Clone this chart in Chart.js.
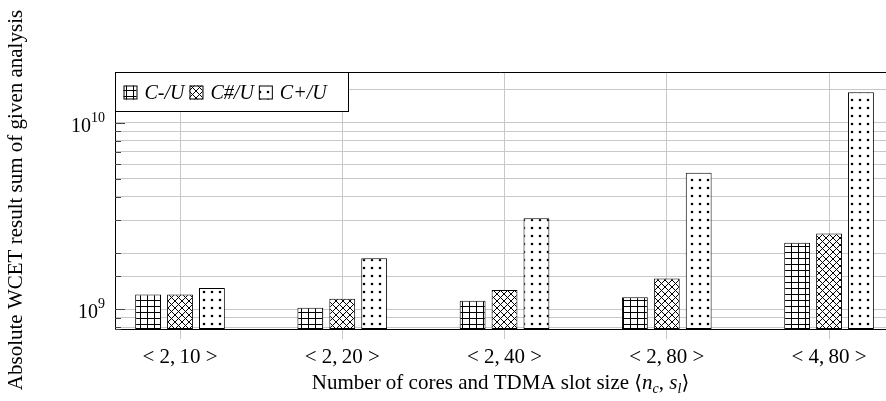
<!DOCTYPE html>
<html>
<head>
<meta charset="utf-8">
<script src="https://cdn.jsdelivr.net/npm/chart.js@4.4.1/dist/chart.umd.min.js"></script>
<style>
  body { margin: 0; background: #fff; }
  #wrap { width: 886px; height: 401px; position: relative; }
</style>
</head>
<body>
<div id="wrap"><canvas id="wcetChart"></canvas></div>
<script>
// Chart data
var categories = ['< 2,\u200910 >', '< 2,\u200920 >', '< 2,\u200940 >', '< 2,\u200980 >', '< 4,\u200980 >'];
var seriesNames = ['C-/U', 'C#/U', 'C+/U'];
var cMinusU = [1.20e9, 1.02e9, 1.11e9, 1.16e9, 2.27e9];
var cSharpU = [1.20e9, 1.14e9, 1.27e9, 1.46e9, 2.55e9];
var cPlusU = [1.30e9, 1.88e9, 3.08e9, 5.40e9, 1.455e10];
var yLabelValues = [1e9, 1e10];
var yLabelExponents = ['9', '10'];

var serif = '"Liberation Serif", "Times New Roman", serif';

// Build the hatch patterns used for the bars
function makePattern(kind) {
    var c = document.createElement('canvas');
    var g = c.getContext('2d');
    if (kind === 'grid') {
        c.width = 7; c.height = 6;
        g.fillStyle = '#fff'; g.fillRect(0, 0, 7, 6);
        g.fillStyle = '#000';
        g.fillRect(0, 0, 1, 6);
        g.fillRect(0, 0, 7, 1);
    } else if (kind === 'cross') {
        c.width = 7; c.height = 7;
        g.fillStyle = '#fff'; g.fillRect(0, 0, 7, 7);
        g.strokeStyle = '#000'; g.lineWidth = 1;
        g.beginPath();
        g.moveTo(0, 0); g.lineTo(7, 7);
        g.moveTo(7, 0); g.lineTo(0, 7);
        g.stroke();
    } else {
        c.width = 8; c.height = 8;
        g.fillStyle = '#fff'; g.fillRect(0, 0, 8, 8);
        g.fillStyle = '#000';
        g.beginPath();
        g.arc(4, 4, 1.3, 0, Math.PI * 2);
        g.fill();
    }
    return document.getElementById('wcetChart').getContext('2d').createPattern(c, 'repeat');
}

var patterns = [makePattern('grid'), makePattern('cross'), makePattern('dots')];
var seriesValues = [cMinusU, cSharpU, cPlusU];

var datasets = seriesNames.map(function (name, k) {
    return {
        label: name,
        data: seriesValues[k].map(function (v, i) { return { x: i, y: v }; }),
        backgroundColor: patterns[k],
        borderColor: '#000',
        borderWidth: 1,
        borderSkipped: false,
        categoryPercentage: 0.59,
        barPercentage: 0.81
    };
});

// Draws the legend box, the frame, y labels and axis titles
var decorPlugin = {
    id: 'decor',
    afterDraw: function (chart) {
        var ctx = chart.ctx;
        var area = chart.chartArea;
        var y = chart.scales.y;
        ctx.save();

        // top frame line
        ctx.strokeStyle = '#000';
        ctx.lineWidth = 1;
        ctx.beginPath();
        ctx.moveTo(area.left, Math.round(area.top) + 0.5);
        ctx.lineTo(area.right, Math.round(area.top) + 0.5);
        ctx.stroke();

        // small inner tick marks on the y axis
        ctx.strokeStyle = '#444';
        y.ticks.forEach(function (t) {
            var py = Math.round(y.getPixelForValue(t.value)) + 0.5;
            var len = yLabelValues.indexOf(t.value) >= 0 ? 10 : 6;
            ctx.beginPath();
            ctx.moveTo(area.left, py);
            ctx.lineTo(area.left + len, py);
            ctx.stroke();
        });

        // y labels 10^n
        ctx.fillStyle = '#000';
        ctx.textBaseline = 'alphabetic';
        yLabelValues.forEach(function (v, i) {
            var py = y.getPixelForValue(v);
            ctx.font = '14px ' + serif;
            ctx.textAlign = 'right';
            var ew = ctx.measureText(yLabelExponents[i]).width;
            ctx.fillText(yLabelExponents[i], area.left - 10, py - 1);
            ctx.font = '20px ' + serif;
            ctx.fillText('10', area.left - 10 - ew, py + 9);
        });

        // legend box
        var bx = Math.round(area.left) + 0.5, by = Math.round(area.top) + 0.5;
        ctx.fillStyle = '#fff';
        ctx.fillRect(bx, by, 233, 39);
        ctx.strokeStyle = '#000';
        ctx.strokeRect(bx, by, 233, 39);
        ctx.font = 'italic 20px ' + serif;
        ctx.textAlign = 'left';
        ctx.textBaseline = 'middle';
        var lx = bx + 8;
        var cy = by + 20;
        seriesNames.forEach(function (name, k) {
            ctx.fillStyle = patterns[k];
            ctx.fillRect(lx, cy - 7, 13, 14);
            ctx.strokeStyle = '#000';
            ctx.strokeRect(lx + 0.5, cy - 6.5, 13, 13);
            lx += 21;
            ctx.fillStyle = '#000';
            ctx.fillText(name, lx, cy + 1);
            lx += ctx.measureText(name).width + 5;
        });

        // y axis title
        ctx.save();
        ctx.translate(16, 200);
        ctx.rotate(-Math.PI / 2);
        ctx.font = '21px ' + serif;
        ctx.textAlign = 'center';
        ctx.textBaseline = 'middle';
        ctx.fillStyle = '#000';
        ctx.fillText('Absolute WCET result sum of given analysis', 0, 0);
        ctx.restore();

        // x axis title with subscripts
        var parts = [
            { t: 'Number of cores and TDMA slot size ', f: '21px ' + serif, dy: 0 },
            { t: '\u27E8', f: '20px "DejaVu Serif", serif', dy: 0 },
            { t: 'n', f: 'italic 21px ' + serif, dy: 0 },
            { t: 'c', f: 'italic 14px ' + serif, dy: 4 },
            { t: ', ', f: '21px ' + serif, dy: 0 },
            { t: 's', f: 'italic 21px ' + serif, dy: 0 },
            { t: 'l', f: 'italic 14px ' + serif, dy: 4 },
            { t: '\u27E9', f: '20px "DejaVu Serif", serif', dy: 0 }
        ];
        var total = 0;
        parts.forEach(function (p) { ctx.font = p.f; p.w = ctx.measureText(p.t).width; total += p.w; });
        var tx = (area.left + area.right) / 2 - total / 2;
        ctx.textAlign = 'left';
        ctx.textBaseline = 'alphabetic';
        parts.forEach(function (p) {
            ctx.font = p.f;
            ctx.fillText(p.t, tx, 389 + p.dy);
            tx += p.w;
        });

        ctx.restore();
    }
};

var config = {
    type: 'bar',
    data: { datasets: datasets },
    options: {
        responsive: true,
        maintainAspectRatio: false,
        animation: false,
        layout: { padding: { top: 72, left: 0, right: 0, bottom: 0 } },
        plugins: {
            legend: { display: false },
            tooltip: { enabled: false }
        },
        scales: {
            x: {
                type: 'linear',
                min: -0.4006,
                max: 4.351,
                offset: false,
                afterBuildTicks: function (scale) {
                    scale.ticks = categories.map(function (_, i) { return { value: i }; });
                },
                afterFit: function (scale) { scale.height = 72; },
                grid: {
                    offset: false,
                    color: '#c8c8c8',
                    tickColor: '#c8c8c8',
                    tickLength: 10,
                    drawTicks: true
                },
                border: { display: true, color: '#000', width: 1 },
                ticks: {
                    color: '#000',
                    padding: 6,
                    maxRotation: 0,
                    font: { family: serif, size: 21 },
                    callback: function (v) { return categories[v] !== undefined ? categories[v] : ''; }
                }
            },
            y: {
                type: 'logarithmic',
                min: 7.84e8,
                max: 1.87e10,
                afterFit: function (scale) { scale.width = 115; },
                grid: { color: '#c8c8c8', drawTicks: false },
                border: { display: true, color: '#000', width: 1 },
                ticks: { display: false }
            }
        }
    },
    plugins: [decorPlugin]
};

new Chart(document.getElementById('wcetChart').getContext('2d'), config);
</script>
</body>
</html>
